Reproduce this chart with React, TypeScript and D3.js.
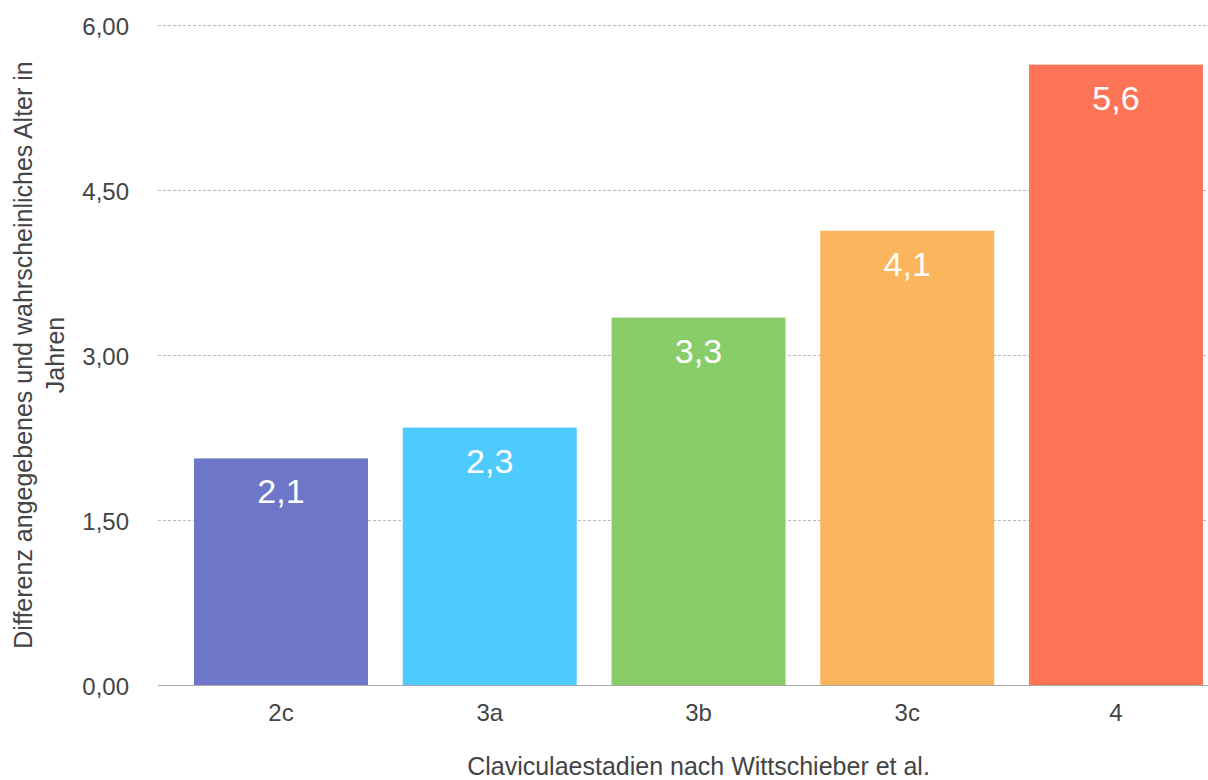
import React, { useEffect, useRef } from "react";
import * as d3 from "d3";

// Stages of clavicle ossification and mean age difference (years)
const stages = ["2c", "3a", "3b", "3c", "4"];
const ageDifference = [2.06, 2.34, 3.34, 4.13, 5.64];
const barColors = ["#6e76c9", "#4ecbfc", "#89cd69", "#fbb55d", "#fe7456"];
const yTicks = [0, 1.5, 3, 4.5, 6];

const xTitle = "Claviculaestadien nach Wittschieber et al.";
const yTitleLines = ["Differenz angegebenes und wahrscheinliches Alter in", "Jahren"];

const WIDTH = 1208;
const HEIGHT = 780;
const FONT = "'Liberation Sans', Arial, Helvetica, sans-serif";

const de = d3.formatLocale({ decimal: ",", thousands: ".", grouping: [3], currency: ["", " €"] });
const tickFmt = de.format(".2f");
const labelFmt = de.format(".1f");

export default function App() {
  const ref = useRef<SVGSVGElement>(null);

  useEffect(() => {
    document.body.style.margin = "0";
    document.body.style.overflow = "hidden";
    const svg = d3.select(ref.current);
    svg.selectAll("*").remove();

    const x = d3
      .scaleBand<string>()
      .domain(stages)
      .range([158, 1239])
      .paddingInner(0.1665)
      .paddingOuter(0.1725);
    const y = d3.scaleLinear().domain([0, 6]).range([685, 25]);

    // gridlines
    const grid = svg.append("g");
    yTicks
      .filter((t) => t !== 0)
      .forEach((t) => {
        grid
          .append("line")
          .attr("x1", 158)
          .attr("x2", 1239)
          .attr("y1", Math.round(y(t)) + 0.5)
          .attr("y2", Math.round(y(t)) + 0.5)
          .attr("stroke", "#b8b8b8")
          .attr("stroke-width", 1)
          .attr("stroke-dasharray", "3,2");
      });

    // y tick labels
    svg
      .append("g")
      .selectAll("text")
      .data(yTicks)
      .join("text")
      .attr("x", 129)
      .attr("y", (d) => y(d) + 10)
      .attr("text-anchor", "end")
      .attr("font-family", FONT)
      .attr("font-size", 24)
      .attr("fill", "#444")
      .text((d) => tickFmt(d));

    // bars
    const data = stages.map((s, i) => ({ stage: s, value: ageDifference[i], color: barColors[i] }));
    svg
      .append("g")
      .selectAll("rect")
      .data(data)
      .join("rect")
      .attr("x", (d) => x(d.stage)!)
      .attr("width", x.bandwidth())
      .attr("y", (d) => y(d.value))
      .attr("height", (d) => y(0) - y(d.value))
      .attr("fill", (d) => d.color);

    // value labels inside bars
    svg
      .append("g")
      .selectAll("text")
      .data(data)
      .join("text")
      .attr("x", (d) => x(d.stage)! + x.bandwidth() / 2)
      .attr("y", (d) => y(d.value) + 45)
      .attr("text-anchor", "middle")
      .attr("font-family", FONT)
      .attr("font-size", 34)
      .attr("fill", "#ffffff")
      .text((d) => labelFmt(d.value));

    // x axis baseline
    svg
      .append("line")
      .attr("x1", 158)
      .attr("x2", 1239)
      .attr("y1", y(0) + 0.5)
      .attr("y2", y(0) + 0.5)
      .attr("stroke", "#a8a8a8")
      .attr("stroke-width", 1);

    // x tick labels
    svg
      .append("g")
      .selectAll("text")
      .data(stages)
      .join("text")
      .attr("x", (d) => x(d)! + x.bandwidth() / 2)
      .attr("y", 721)
      .attr("text-anchor", "middle")
      .attr("font-family", FONT)
      .attr("font-size", 24)
      .attr("fill", "#444")
      .text((d) => d);

    // x axis title
    svg
      .append("text")
      .attr("x", (158 + 1239) / 2)
      .attr("y", 775)
      .attr("text-anchor", "middle")
      .attr("font-family", FONT)
      .attr("font-size", 25)
      .attr("fill", "#444")
      .text(xTitle);

    // y axis title (two lines, rotated)
    const yt = svg
      .append("text")
      .attr("transform", `translate(0, ${(25 + 685) / 2}) rotate(-90)`)
      .attr("text-anchor", "middle")
      .attr("font-family", FONT)
      .attr("font-size", 25)
      .attr("fill", "#444");
    yTitleLines.forEach((line, i) => {
      yt.append("tspan")
        .attr("x", 0)
        .attr("y", 32 + i * 32)
        .text(line);
    });
  }, []);

  return <svg ref={ref} width={WIDTH} height={HEIGHT} style={{ display: "block" }} />;
}
